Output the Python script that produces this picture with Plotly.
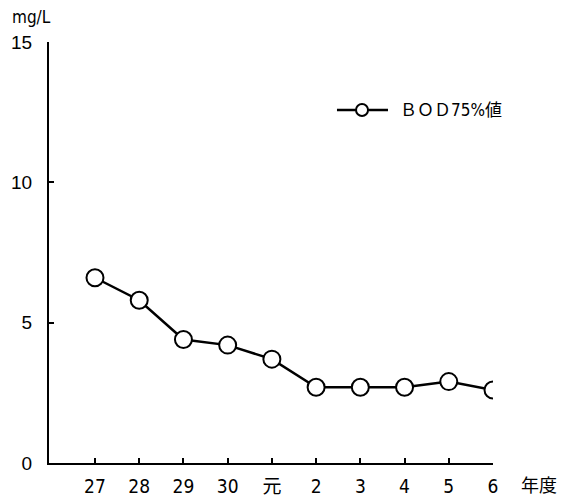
import plotly.graph_objects as go

years = ["27", "28", "29", "30", "元", "2", "3", "4", "5", "6"]
bod75 = [6.6, 5.8, 4.4, 4.2, 3.7, 2.7, 2.7, 2.7, 2.9, 2.6]
y_ticks = [0, 5, 10, 15]
series_name = "ＢＯＤ75%値"

FONT = "DejaVu Sans Condensed, Noto Sans CJK JP"
YFONT = "Liberation Sans, Noto Sans CJK JP"

fig = go.Figure()
fig.add_trace(go.Scatter(
    x=years, y=bod75, mode="lines+markers", name=series_name,
    line=dict(color="black", width=2.5),
    marker=dict(symbol="circle", size=17, color="white",
                line=dict(color="black", width=2)),
    showlegend=False,
))

# legend sample drawn manually (longer line, smaller marker like the original)
ly = 0.8385
shapes = [
    dict(type="line", xref="paper", yref="paper", x0=0.6486, x1=0.7635,
         y0=ly, y1=ly, line=dict(color="black", width=2.5)),
    dict(type="circle", xref="paper", yref="paper", xsizemode="pixel",
         ysizemode="pixel", xanchor=0.705, yanchor=ly, x0=-6, x1=6,
         y0=-6, y1=6, fillcolor="white", line=dict(color="black", width=2)),
]

fig.update_layout(
    width=575, height=502,
    margin=dict(l=41, r=90, t=34, b=47, autoexpand=False),
    paper_bgcolor="white", plot_bgcolor="white",
    font=dict(family=FONT, size=18, color="black"),
    showlegend=False,
    shapes=shapes,
    xaxis=dict(type="category", range=[-1.04, 9], showline=True,
               linecolor="black", linewidth=2, ticks="inside",
               ticklen=5, tickwidth=2, tickcolor="black",
               showgrid=False, zeroline=False, automargin=False,
               tickfont=dict(size=19, family=FONT),
               ticklabelstandoff=5),
    yaxis=dict(range=[0, 15], tickvals=y_ticks, showline=True,
               linecolor="black", linewidth=2, ticks="inside",
               ticklen=5, tickwidth=2, tickcolor="black",
               showgrid=False, zeroline=False, automargin=False,
               tickfont=dict(size=19, family=YFONT),
               ticklabelstandoff=11),
    annotations=[
        dict(text="mg/L", xref="paper", yref="paper", x=-0.092, y=1.0,
             xshift=2, yshift=25, xanchor="left", yanchor="middle",
             showarrow=False, font=dict(size=17, family=FONT)),
        dict(text="年度", xref="paper", yref="paper", x=1.0, y=0,
             xshift=26, yshift=-21, xanchor="left", yanchor="middle",
             showarrow=False, font=dict(size=18, family="Noto Sans CJK JP")),
        dict(text=series_name, xref="paper", yref="paper", x=0.786, y=ly,
             xanchor="left", yanchor="middle", showarrow=False,
             font=dict(size=17, family=FONT)),
    ],
)

fig.write_html("out.html")
